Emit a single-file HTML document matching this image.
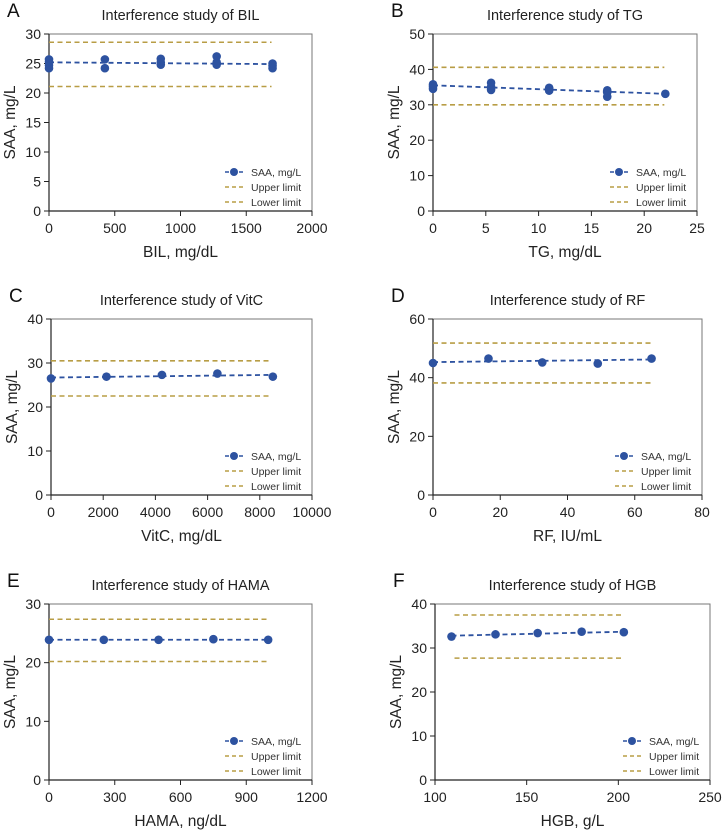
<!DOCTYPE html>
<html><head><meta charset="utf-8">
<style>
html,body{margin:0;padding:0;background:#fff;}
svg{display:block;font-family:"Liberation Sans",Arial,sans-serif;}
</style></head>
<body>
<svg id="fig" width="723" height="831" viewBox="0 0 723 831" xmlns="http://www.w3.org/2000/svg"></svg>
<script>
// ---- Panel A: BIL ----
const bilX = [0,0,0,0,425,425,850,850,850,1275,1275,1275,1700,1700,1700];
const bilY = [24.2,24.7,25.3,25.7,24.2,25.7,24.8,25.2,25.8,24.8,25.2,26.2,24.2,24.6,25.0];
const bilFit = [25.2,24.9];
const bilLimits = [28.6,21.1];
const bilXTicks = [0,500,1000,1500,2000];
const bilYTicks = [0,5,10,15,20,25,30];
// ---- Panel B: TG ----
const tgX = [0,0,0,5.5,5.5,5.5,11,11,11,16.5,16.5,16.5,22];
const tgY = [34.5,35.2,35.8,34.2,35.0,36.2,34.0,34.5,34.8,32.3,33.5,34.1,33.1];
const tgFit = [35.5,33.1];
const tgLimits = [40.6,30.0];
const tgXTicks = [0,5,10,15,20,25];
const tgYTicks = [0,10,20,30,40,50];
// ---- Panel C: VitC ----
const vitcX = [0,2125,4250,6375,8500];
const vitcY = [26.5,26.9,27.3,27.6,26.9];
const vitcFit = [26.7,27.3];
const vitcLimits = [30.5,22.5];
const vitcXTicks = [0,2000,4000,6000,8000,10000];
const vitcYTicks = [0,10,20,30,40];
// ---- Panel D: RF ----
const rfX = [0,16.5,32.5,49,65];
const rfY = [45.0,46.5,45.2,44.8,46.5];
const rfFit = [45.3,46.2];
const rfLimits = [51.8,38.2];
const rfXTicks = [0,20,40,60,80];
const rfYTicks = [0,20,40,60];
// ---- Panel E: HAMA ----
const hamaX = [0,250,500,750,1000];
const hamaY = [23.9,23.9,23.9,24.0,23.9];
const hamaFit = [23.9,23.9];
const hamaLimits = [27.4,20.2];
const hamaXTicks = [0,300,600,900,1200];
const hamaYTicks = [0,10,20,30];
// ---- Panel F: HGB ----
const hgbX = [109,133,156,180,203];
const hgbY = [32.6,33.1,33.4,33.7,33.6];
const hgbFit = [32.8,33.7];
const hgbLimits = [37.5,27.7];
const hgbXTicks = [100,150,200,250];
const hgbYTicks = [0,10,20,30,40];

const NS = "http://www.w3.org/2000/svg";
const svg = document.getElementById('fig');
function mk(tag, attrs, parent){
  const e = document.createElementNS(NS, tag);
  for (const k in attrs) e.setAttribute(k, attrs[k]);
  (parent||svg).appendChild(e);
  return e;
}
const BLUE = "#2d52a0", OLIVE = "#b89d45";

function panel(p){
  const g = mk('g', {});
  
  
  const xs = v => p.L + (v - p.xt[0]) / (p.xt[p.xt.length-1] - p.xt[0]) * (p.R - p.L);
  const ys = v => p.B - (v - p.yt[0]) / (p.yt[p.yt.length-1] - p.yt[0]) * (p.B - p.T);
  const lt = mk('text', {x: p.L - 42, y: p.T - 17, 'font-size': 19, fill: '#111'}, g);
  lt.textContent = p.letter;
  
  
  const tt = mk('text', {x: (p.L + p.R)/2, y: p.T - 14, 'font-size': 14.5, 'text-anchor': 'middle', fill: '#222'}, g);
  tt.textContent = p.title;
  
  
  const fr = mk('rect', {x: p.L, y: p.T, width: p.R - p.L, height: p.B - p.T, fill: 'none', stroke: '#777', 'stroke-width': 1}, g);
  
  
  const ax = mk('path', {d: `M${p.L},${p.T}V${p.B}H${p.R}`, fill: 'none', stroke: '#222', 'stroke-width': 1.2}, g);
  
  
  p.yt.forEach(v => {
    const y = ys(v);
    mk('line', {x1: p.L - 5, x2: p.L, y1: y, y2: y, stroke: '#222'}, g);
    const t = mk('text', {x: p.L - 8, y: y + 5, 'font-size': 14, 'text-anchor': 'end', fill: '#222'}, g);
    t.textContent = v;
    
    
  });
  p.xt.forEach(v => {
    const x = xs(v);
    mk('line', {x1: x, x2: x, y1: p.B, y2: p.B + 5, stroke: '#222'}, g);
    const t = mk('text', {x: x, y: p.B + 22, 'font-size': 14, 'text-anchor': 'middle', fill: '#222'}, g);
    t.textContent = v;
    
    
  });
  const xtl = mk('text', {x: (p.L + p.R)/2, y: p.B + 46, 'font-size': 15.5, 'text-anchor': 'middle', fill: '#222'}, g);
  xtl.textContent = p.xlabel;
  
  
  const yx = p.L - 34, yy = (p.T + p.B)/2;
  const ytl = mk('text', {x: yx, y: yy, 'font-size': 15.5, 'text-anchor': 'middle', fill: '#222', transform: `rotate(-90 ${yx} ${yy})`}, g);
  ytl.textContent = 'SAA, mg/L';
  
  
  const x0 = Math.min(...p.x), x1 = Math.max(...p.x);
  p.lim.forEach((v, i) => {
    const l = mk('line', {x1: xs(x0) + (p.limStart||0), x2: xs(x1) - 1, y1: ys(v), y2: ys(v), stroke: OLIVE, 'stroke-width': 1.6, 'stroke-dasharray': '5,3.5'}, g);
    
    
  });
  const fl = mk('line', {x1: xs(x0), x2: xs(x1), y1: ys(p.fit[0]), y2: ys(p.fit[1]), stroke: BLUE, 'stroke-width': 1.8, 'stroke-dasharray': '5,3.5'}, g);
  
  
  p.x.forEach((xv, i) => {
    const c = mk('circle', {cx: xs(xv), cy: ys(p.y[i]), r: 4.3, fill: BLUE}, g);
    
    
  });
  const lx = p.R - 87, ly = p.B - 39;
  const rows = [['SAA, mg/L', BLUE, true], ['Upper limit', OLIVE, false], ['Lower limit', OLIVE, false]];
  rows.forEach((r, i) => {
    const y = ly + i * 15;
    const lg = mk('g', {}, g);
    
    
    mk('line', {x1: lx, x2: lx + 19, y1: y, y2: y, stroke: r[1], 'stroke-width': 1.6, 'stroke-dasharray': '4,3'}, lg);
    if (r[2]) mk('circle', {cx: lx + 9, cy: y, r: 4, fill: BLUE}, lg);
    const t = mk('text', {x: lx + 26, y: y + 4, 'font-size': 10.5, fill: '#333'}, lg);
    t.textContent = r[0];
  });
}

panel({letter:'A', title:'Interference study of BIL', xlabel:'BIL, mg/dL', L:49, R:312, T:34, B:211, x:bilX, y:bilY, fit:bilFit, lim:bilLimits, xt:bilXTicks, yt:bilYTicks});
panel({letter:'B', title:'Interference study of TG', xlabel:'TG, mg/dL', L:433, R:697, T:34, B:211, x:tgX, y:tgY, fit:tgFit, lim:tgLimits, xt:tgXTicks, yt:tgYTicks});
panel({letter:'C', title:'Interference study of VitC', xlabel:'VitC, mg/dL', L:51, R:312, T:319, B:495, x:vitcX, y:vitcY, fit:vitcFit, lim:vitcLimits, xt:vitcXTicks, yt:vitcYTicks});
panel({letter:'D', title:'Interference study of RF', xlabel:'RF, IU/mL', L:433, R:702, T:319, B:495, x:rfX, y:rfY, fit:rfFit, lim:rfLimits, xt:rfXTicks, yt:rfYTicks});
panel({letter:'E', title:'Interference study of HAMA', xlabel:'HAMA, ng/dL', L:49, R:312, T:604, B:780, x:hamaX, y:hamaY, fit:hamaFit, lim:hamaLimits, xt:hamaXTicks, yt:hamaYTicks});
panel({letter:'F', title:'Interference study of HGB', xlabel:'HGB, g/L', L:435, R:710, T:604, B:780, x:hgbX, y:hgbY, fit:hgbFit, lim:hgbLimits, xt:hgbXTicks, yt:hgbYTicks, limStart:3});
</script>
</body></html>
